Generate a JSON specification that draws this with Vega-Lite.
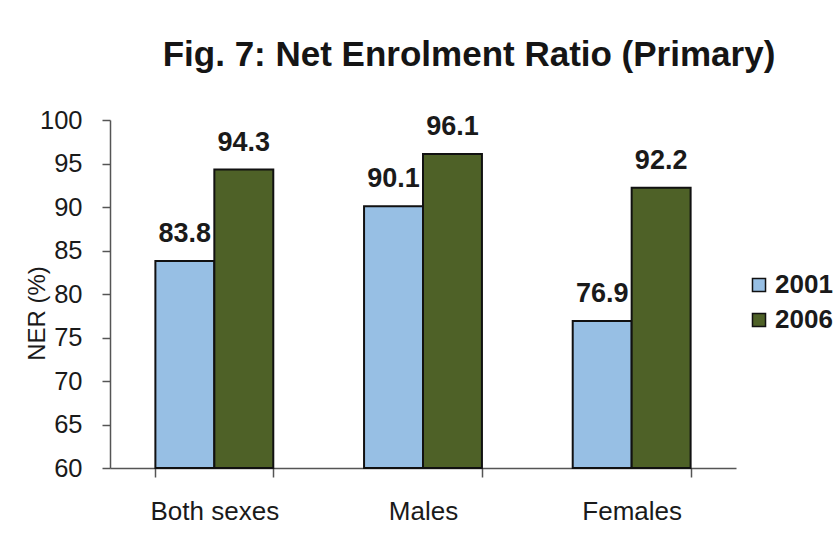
{
  "$schema": "https://vega.github.io/schema/vega-lite/v6.json",
  "width": 626,
  "height": 348,
  "autosize": {"type": "none"},
  "padding": {"left": 110, "top": 120, "right": 101, "bottom": 77},
  "background": "white",
  "config": {
    "font": "Liberation Sans",
    "view": {"stroke": null}
  },
  "title": {
    "text": "Fig. 7: Net Enrolment Ratio (Primary)",
    "font": "Liberation Sans",
    "fontSize": 35,
    "fontWeight": "bold",
    "color": "#151515",
    "anchor": "middle",
    "dx": 46,
    "offset": 35
  },
  "data": {
    "values": [
      {"group": "Both sexes", "year": "2001", "ner": 83.8},
      {"group": "Both sexes", "year": "2006", "ner": 94.3},
      {"group": "Males", "year": "2001", "ner": 90.1},
      {"group": "Males", "year": "2006", "ner": 96.1},
      {"group": "Females", "year": "2001", "ner": 76.9},
      {"group": "Females", "year": "2006", "ner": 92.2}
    ]
  },
  "encoding": {
    "x": {
      "field": "group",
      "type": "nominal",
      "sort": ["Both sexes", "Males", "Females"],
      "scale": {"paddingInner": 0.435, "paddingOuter": 0.2175},
      "axis": {
        "title": null,
        "labelAngle": 0,
        "labelFontSize": 26,
        "labelColor": "#1a1a1a",
        "labelPadding": 21,
        "tickBand": "extent",
        "tickSize": 9,
        "tickColor": "#555555",
        "domainColor": "#555555",
        "tickWidth": 1.5,
        "domainWidth": 1.5
      }
    },
    "xOffset": {
      "field": "year",
      "type": "nominal",
      "scale": {"paddingInner": 0, "paddingOuter": 0}
    },
    "y": {
      "field": "ner",
      "type": "quantitative",
      "scale": {"domain": [60, 100], "nice": false, "zero": false},
      "axis": {
        "title": "NER (%)",
        "values": [60, 65, 70, 75, 80, 85, 90, 95, 100],
        "grid": false,
        "labelFontSize": 25.5,
        "labelColor": "#1a1a1a",
        "labelPadding": 20,
        "tickSize": 8,
        "tickColor": "#555555",
        "domainColor": "#555555",
        "tickWidth": 1.5,
        "domainWidth": 1.5,
        "titleFontSize": 24,
        "titleFontWeight": "normal",
        "titleColor": "#1a1a1a",
        "titleAngle": -90,
        "titleAlign": "center",
        "titleBaseline": "middle",
        "titleX": -73,
        "titleY": 193
      }
    }
  },
  "layer": [
    {
      "mark": {"type": "bar", "stroke": "#111111", "strokeWidth": 2},
      "encoding": {
        "y2": {"datum": 60},
        "color": {
          "field": "year",
          "type": "nominal",
          "scale": {"domain": ["2001", "2006"], "range": ["#97BFE4", "#4E6127"]},
          "legend": {
            "orient": "none",
            "legendX": 636,
            "legendY": 152,
            "title": null,
            "labelFontSize": 26,
            "labelFontWeight": "bold",
            "labelColor": "#1a1a1a",
            "symbolType": "square",
            "symbolSize": 170,
            "symbolStrokeColor": "#111111",
            "symbolStrokeWidth": 1.5,
            "rowPadding": 9,
            "labelOffset": 3
          }
        }
      }
    },
    {
      "mark": {
        "type": "text",
        "baseline": "alphabetic",
        "dy": -19,
        "fontSize": 27,
        "fontWeight": "bold",
        "color": "#1a1a1a"
      },
      "encoding": {
        "text": {"field": "ner", "type": "quantitative", "format": ".1f"}
      }
    }
  ]
}
